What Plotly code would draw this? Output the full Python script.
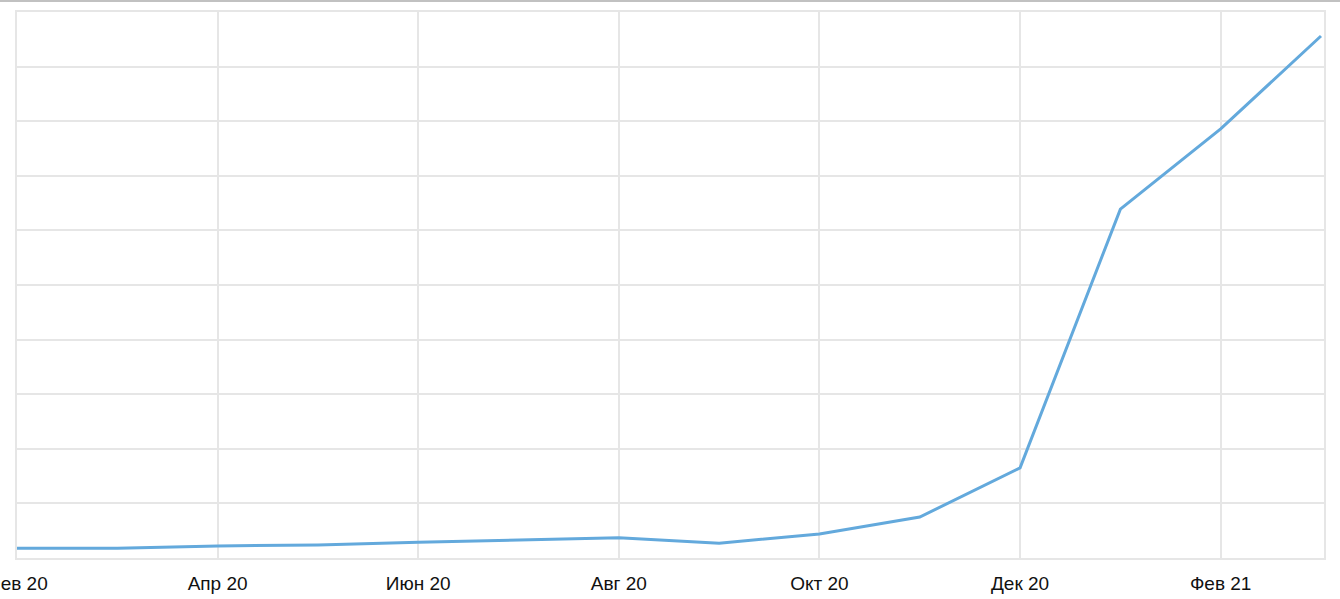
import plotly.graph_objs as go

months = ["Фев 20", "Мар 20", "Апр 20", "Май 20", "Июн 20", "Июл 20", "Авг 20",
          "Сен 20", "Окт 20", "Ноя 20", "Дек 20", "Янв 21", "Фев 21", "Мар 21"]
values = [0.18, 0.18, 0.22, 0.24, 0.29, 0.33, 0.37, 0.27, 0.44, 0.75, 1.65, 6.39, 7.86, 9.56]
tick_idx = [0, 2, 4, 6, 8, 10, 12]
tick_labels = [months[i] for i in tick_idx]

grid = "#e6e6e6"

fig = go.Figure(
    go.Scatter(
        x=list(range(len(months))), y=values,
        mode="lines",
        line=dict(color="#63a9dc", width=3),
        hoverinfo="y",
    )
)

fig.update_layout(
    width=1340,
    height=599,
    template="simple_white",
    plot_bgcolor="white",
    paper_bgcolor="white",
    showlegend=False,
    margin=dict(autoexpand=False, l=17, r=16, t=12, b=41),
    font=dict(family="Liberation Sans, Arial", color="#111111", size=19),
    xaxis=dict(
        range=[0, 13.03],
        tickmode="array",
        tickvals=tick_idx,
        ticktext=tick_labels,
        ticklabeloverflow="allow",
        showgrid=True,
        gridcolor=grid,
        gridwidth=1.5,
        showline=True,
        linecolor=grid,
        linewidth=2,
        mirror=True,
        ticks="outside",
        ticklen=7,
        tickcolor="rgba(0,0,0,0)",
        automargin=False,
        zeroline=False,
    ),
    yaxis=dict(
        range=[0, 10],
        dtick=1,
        showticklabels=False,
        ticks="",
        showgrid=True,
        gridcolor=grid,
        gridwidth=1.5,
        showline=True,
        linecolor=grid,
        linewidth=2,
        mirror=True,
        automargin=False,
        zeroline=False,
    ),
)

# dark rule along the very top of the page
fig.add_shape(type="rect", xref="paper", yref="paper", layer="above",
              x0=-0.02, x1=1.02, y0=1 + 10 / 546, y1=1 + 12 / 546,
              fillcolor="#333333", line=dict(width=0))

# page body has a default 8px margin; drop it so the figure sits at 0,0
fig.write_html(
    "out.html",
    config={"displayModeBar": False},
    post_script="document.body.style.margin='0px';document.body.style.overflow='hidden';",
)
